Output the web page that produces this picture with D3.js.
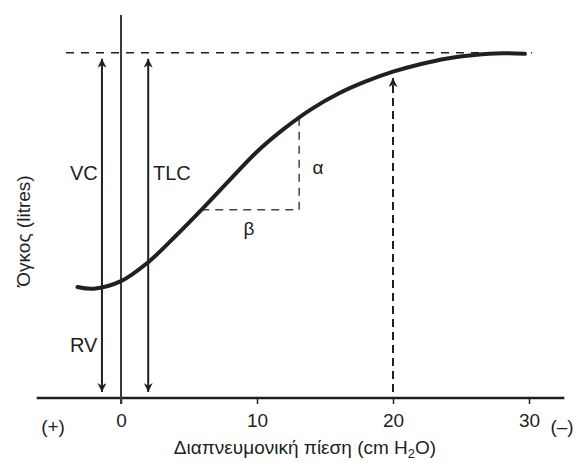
<!DOCTYPE html>
<html><head><meta charset="utf-8">
<script src="https://cdn.jsdelivr.net/npm/d3@7"></script>
<style>body{margin:0;background:#fff}svg{display:block}text{font-family:"Liberation Sans",Arial,sans-serif;fill:#231f20}</style>
</head><body><svg width="580" height="463"></svg>
<script>
// Data
const xTicks = [0, 10, 20, 30];
const curveP = [-3.2, -2.0, 0, 2, 4, 6, 8, 10, 12, 14, 16, 18, 20, 22, 24, 26, 28, 29.7];   // cm H2O
const curveV = [1.93, 1.90, 2.03, 2.36, 2.81, 3.29, 3.79, 4.28, 4.68, 5.02, 5.29, 5.50, 5.67, 5.80, 5.90, 5.96, 5.99, 5.98]; // litres
const tlc = 6.0;
const arrowNames = ["VC", "TLC"];
const arrowP = [-1.4, 2.0];
const dashedArrowP = 20;
const dashedArrowTop = 5.68;
const slopeP = [5.9, 13.1];
const slopeV = [3.27, 4.86];

const svg = d3.select("svg");
const col = "#231f20";
const x = d3.scaleLinear().domain([0, 30]).range([121, 529]);
const y = d3.scaleLinear().domain([0, 6]).range([398, 52.7]);

const defs = svg.append("defs");
defs.append("marker").attr("id", "ah").attr("viewBox", "0 0 10 10").attr("refX", 10).attr("refY", 5)
  .attr("markerWidth", 9).attr("markerHeight", 9).attr("markerUnits", "userSpaceOnUse").attr("orient", "auto-start-reverse")
  .append("path").attr("d", "M0,0 L10,5 L0,10 L3,5 Z").attr("fill", col);

// x axis
const axisG = svg.append("g").attr("transform", `translate(0,${y(0)})`)
  .call(d3.axisBottom(x).tickValues(xTicks).tickSize(6).tickSizeOuter(0).tickPadding(10));
axisG.select(".domain").remove();
axisG.selectAll(".tick line").attr("stroke", col).attr("stroke-width", 1.5);
axisG.selectAll(".tick text").attr("font-size", 19).attr("font-family", "Liberation Sans, Arial, sans-serif").attr("fill", col);
svg.append("line").attr("x1", x(-6.2)).attr("x2", x(32.6)).attr("y1", y(0)).attr("y2", y(0))
  .attr("stroke", col).attr("stroke-width", 2.5);
svg.append("text").attr("x", 53).attr("y", 433).attr("text-anchor", "middle").attr("font-size", 19).text("(+)");
svg.append("text").attr("x", 562).attr("y", 433).attr("text-anchor", "middle").attr("font-size", 19).text("(–)");

// y axis line at 0
svg.append("line").attr("x1", x(0)).attr("x2", x(0)).attr("y1", 15).attr("y2", y(0) + 6)
  .attr("stroke", "#3a3a3a").attr("stroke-width", 2);

// TLC dashed
svg.append("line").attr("x1", 66).attr("x2", 532).attr("y1", y(tlc)).attr("y2", y(tlc))
  .attr("stroke", col).attr("stroke-width", 1.5).attr("stroke-dasharray", "8,7");

// VC / TLC arrows
arrowP.forEach(p => {
  svg.append("line").attr("x1", x(p)).attr("x2", x(p)).attr("y1", y(tlc) + 6).attr("y2", y(0) - 6)
    .attr("stroke", col).attr("stroke-width", 2)
    .attr("marker-start", "url(#ah)").attr("marker-end", "url(#ah)");
});
svg.append("text").attr("x", 70).attr("y", 180).attr("font-size", 20).text(arrowNames[0]);
svg.append("text").attr("x", 153).attr("y", 180).attr("font-size", 20).text(arrowNames[1]);
svg.append("text").attr("x", 70).attr("y", 352).attr("font-size", 20).text("RV");

// dashed arrow at 20
svg.append("line").attr("x1", x(dashedArrowP)).attr("x2", x(dashedArrowP)).attr("y1", y(0) - 6).attr("y2", y(dashedArrowTop) + 7)
  .attr("stroke", col).attr("stroke-width", 2).attr("stroke-dasharray", "8,5")
  .attr("marker-end", "url(#ah)");

// slope triangle
svg.append("path")
  .attr("d", `M${x(slopeP[0])},${y(slopeV[0])} L${x(slopeP[1])},${y(slopeV[0])} L${x(slopeP[1])},${y(slopeV[1])}`)
  .attr("fill", "none").attr("stroke", "#444").attr("stroke-width", 1.5).attr("stroke-dasharray", "8,6");
svg.append("text").attr("x", 318).attr("y", 174).attr("text-anchor", "middle").attr("font-size", 19).text("α");
svg.append("text").attr("x", 249).attr("y", 235).attr("text-anchor", "middle").attr("font-size", 19).text("β");

// curve
const pts = curveP.map((p, i) => [p, curveV[i]]);
svg.append("path").datum(pts)
  .attr("d", d3.line().x(d => x(d[0])).y(d => y(d[1])).curve(d3.curveCatmullRom.alpha(0.5)))
  .attr("fill", "none").attr("stroke", col).attr("stroke-width", 4).attr("stroke-linecap", "round");

// axis titles
const t = svg.append("text").attr("x", 305).attr("y", 454).attr("text-anchor", "middle").attr("font-size", 19);
t.append("tspan").text("Διαπνευμονική πίεση (cm H");
t.append("tspan").attr("font-size", 13).attr("dy", 4).text("2");
t.append("tspan").attr("dy", -4).text("O)");
svg.append("text").attr("transform", "translate(30,231) rotate(-90)").attr("text-anchor", "middle")
  .attr("font-size", 19).text("Όγκος (litres)");
</script></body></html>
